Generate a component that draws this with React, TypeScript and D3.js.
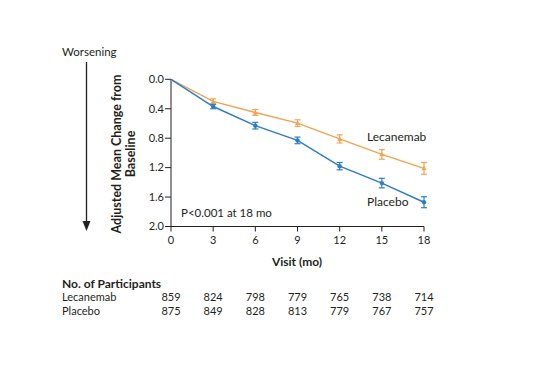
import React from "react";
import * as d3 from "d3";

const visits = [0, 3, 6, 9, 12, 15, 18];
const lecanemab = [0, 0.3, 0.45, 0.595, 0.81, 1.02, 1.21];
const lecanemabErr = [0, 0.035, 0.04, 0.045, 0.055, 0.065, 0.08];
const placebo = [0, 0.37, 0.63, 0.83, 1.18, 1.41, 1.67];
const placeboErr = [0, 0.03, 0.045, 0.045, 0.05, 0.065, 0.075];
const yTicks = [0, 0.4, 0.8, 1.2, 1.6, 2.0];
const nLecanemab = [859, 824, 798, 779, 765, 738, 714];
const nPlacebo = [875, 849, 828, 813, 779, 767, 757];

const ORANGE = "#F0A453";
const BLUE = "#2E7DC2";
const INK = "#231F20";
const FONT = "Lato, 'Open Sans', sans-serif";

export default function App() {
  const x = d3.scaleLinear().domain([0, 18]).range([171, 424]);
  const y = d3.scaleLinear().domain([0, 2]).range([79.3, 226.5]);
  const line = d3
    .line<number>()
    .x((_, i) => x(visits[i]))
    .y((d) => y(d));

  const series = [
    { vals: lecanemab, err: lecanemabErr, color: ORANGE, marker: "tri" },
    { vals: placebo, err: placeboErr, color: BLUE, marker: "dot" },
  ];

  return (
    <svg
      width={553}
      height={376}
      style={{ position: "absolute", left: 0, top: 0, background: "#fff" }}
      fontFamily={FONT}
    >
      {/* Worsening arrow */}
      <text x={62} y={56} fontSize={11.5} fill={INK}>Worsening</text>
      <line x1={86.5} y1={62} x2={86.5} y2={224} stroke={INK} strokeWidth={1.3} />
      <path d="M82.5,221 L90.5,221 L86.5,231 Z" fill={INK} />

      {/* Y axis label */}
      <g transform="translate(121,154) rotate(-90)">
        <text textAnchor="middle" fontSize={12.5} fontWeight="bold" fill={INK} y={0}>
          Adjusted Mean Change from
        </text>
        <text textAnchor="middle" fontSize={12.5} fontWeight="bold" fill={INK} y={14}>
          Baseline
        </text>
      </g>

      {/* Y axis */}
      <line x1={x(0)} y1={y(0)} x2={x(0)} y2={y(2)} stroke={INK} strokeWidth={1} />
      {yTicks.map((t) => (
        <g key={t}>
          <line x1={x(0) - 6} x2={x(0)} y1={y(t)} y2={y(t)} stroke={INK} />
          <text x={x(0) - 7} y={y(t)} dy="0.35em" textAnchor="end" fontSize={11} fill={INK}>
            {t.toFixed(1)}
          </text>
        </g>
      ))}

      {/* X axis */}
      <line x1={x(0)} y1={y(2)} x2={x(18)} y2={y(2)} stroke={INK} strokeWidth={1} />
      {visits.map((v) => (
        <g key={v}>
          <line x1={x(v)} x2={x(v)} y1={y(2)} y2={y(2) + 5} stroke={INK} />
          <text x={x(v)} y={y(2) + 17} textAnchor="middle" fontSize={11} fill={INK}>
            {v}
          </text>
        </g>
      ))}
      <text x={297} y={266} textAnchor="middle" fontSize={12} fontWeight="bold" fill={INK}>
        Visit (mo)
      </text>

      {/* Series */}
      {series.map((s, si) => (
        <g key={si}>
          <path d={line(s.vals) || ""} fill="none" stroke={s.color} strokeWidth={1.5} />
          {s.vals.map((v, i) => {
            if (i === 0) return null;
            const cx = x(visits[i]);
            const top = y(v - s.err[i]);
            const bot = y(v + s.err[i]);
            return (
              <g key={i} stroke={s.color} strokeWidth={1.2}>
                <line x1={cx} x2={cx} y1={top} y2={bot} />
                <line x1={cx - 3} x2={cx + 3} y1={top} y2={top} />
                <line x1={cx - 3} x2={cx + 3} y1={bot} y2={bot} />
                {s.marker === "dot" ? (
                  <circle cx={cx} cy={y(v)} r={2.2} fill={s.color} stroke="none" />
                ) : (
                  <path
                    d={`M${cx - 2.5},${y(v) + 2} L${cx + 2.5},${y(v) + 2} L${cx},${y(v) - 2.5} Z`}
                    fill={s.color}
                    stroke="none"
                  />
                )}
              </g>
            );
          })}
        </g>
      ))}

      <text x={367} y={141} fontSize={12} fill={INK}>Lecanemab</text>
      <text x={367} y={206} fontSize={12} fill={INK}>Placebo</text>
      <text x={181} y={217} fontSize={11.5} fill={INK}>P&lt;0.001 at 18 mo</text>

      {/* Participants table */}
      <text x={62} y={288} fontSize={12} fontWeight="bold" fill={INK}>No. of Participants</text>
      <text x={62} y={301} fontSize={11} fill={INK}>Lecanemab</text>
      <text x={62} y={315} fontSize={11} fill={INK}>Placebo</text>
      {visits.map((v, i) => (
        <g key={v}>
          <text x={x(v)} y={301} textAnchor="middle" fontSize={11} fill={INK}>{nLecanemab[i]}</text>
          <text x={x(v)} y={315} textAnchor="middle" fontSize={11} fill={INK}>{nPlacebo[i]}</text>
        </g>
      ))}
    </svg>
  );
}
